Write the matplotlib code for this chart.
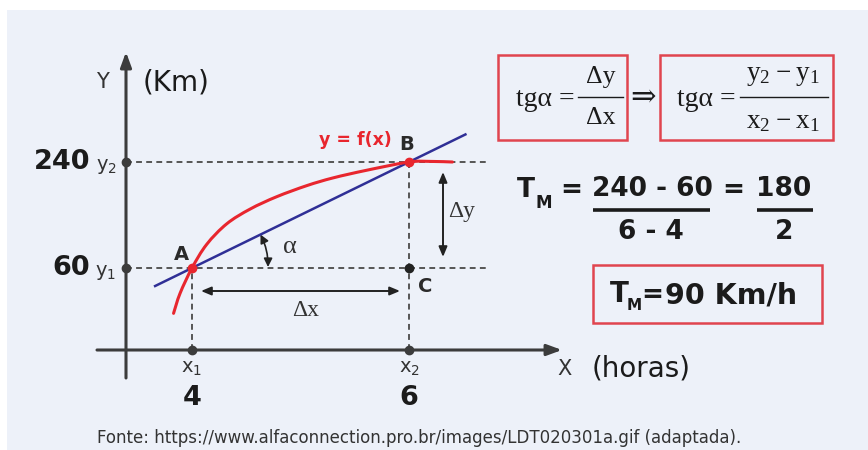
import matplotlib
matplotlib.use("Agg")
import matplotlib.pyplot as plt
from matplotlib.patches import Rectangle, FancyArrowPatch, PathPatch
from matplotlib.path import Path
from matplotlib.transforms import blended_transform_factory as btf

# ---------------- data ----------------
hours = [4, 6]                 # x1, x2  (horas)
km = [60, 240]                 # y1, y2  (Km)
x_tick_labels = ["4", "6"]
y_tick_labels = ["60", "240"]
x_sym = [r"$\mathregular{x_1}$", r"$\mathregular{x_2}$"]
y_sym = [r"$\mathregular{y_1}$", r"$\mathregular{y_2}$"]
# red curve y = f(x)
curve_h = [3.83, 3.89, 4.0, 4.135, 4.32, 4.535, 4.78, 5.06, 5.30, 5.61, 6.0, 6.2, 6.4]
curve_km = [-17, 17, 60, 100, 135, 160, 181, 200, 213, 226, 240, 241, 240]
secant_h = [3.66, 6.52]        # extent of the blue secant line
speed = (km[1] - km[0]) / (hours[1] - hours[0])   # 90 Km/h

W, H = 868, 450
fig = plt.figure(figsize=(8.68, 4.5), dpi=100)
fig.patch.set_facecolor("white")

# pixel overlay axes
ov = fig.add_axes([0, 0, 1, 1])
ov.set_xlim(0, W)
ov.set_ylim(H, 0)
ov.axis("off")
ov.add_patch(Rectangle((7, 10), W - 7, H - 10, facecolor="#edf1f9", edgecolor="none", zorder=0))

# data axes aligned to the picture (A at pixel (192,268), B at (409,162))
PA, PB = (192, 268), (409, 162)
sx = (PB[0] - PA[0]) / (hours[1] - hours[0])
sy = (PA[1] - PB[1]) / (km[1] - km[0])
ax = fig.add_axes([0, 0, 1, 1], zorder=2)
ax.set_xlim(hours[0] - PA[0] / sx, hours[0] + (W - PA[0]) / sx)
ax.set_ylim(km[0] - (H - PA[1]) / sy, km[0] + PA[1] / sy)
ax.axis("off")

def ky(py):
    return km[0] + (PA[1] - py) / sy

AXC = "#3c3c3c"
DARK = "#1b1b1b"
RED = "#e8262e"
BOXRED = "#e0454f"
BLUE = "#2f2f96"

# coordinate axes (pixel layout)
X_AXIS_PY, Y_AXIS_PX = 350, 126
ov.annotate("", xy=(Y_AXIS_PX, 52), xytext=(Y_AXIS_PX, 378),
            arrowprops=dict(arrowstyle="-|>,head_length=0.9,head_width=0.33", lw=2.2,
                            color=AXC, shrinkA=0, shrinkB=0), zorder=3)
ov.annotate("", xy=(562, X_AXIS_PY), xytext=(97, X_AXIS_PY),
            arrowprops=dict(arrowstyle="-|>,head_length=0.9,head_width=0.33", lw=2.2,
                            color=AXC, shrinkA=0, shrinkB=0), zorder=3)

tr_xpx = btf(ov.transData, ax.transData)
tr_ypx = btf(ax.transData, ov.transData)

dash = (0, (3, 2.2))
# dashed guides
for k in km:
    ax.plot([Y_AXIS_PX, 488], [k, k], transform=tr_xpx, ls=dash, color="#555555", lw=1.4, zorder=1)
for h, k in zip(hours, km):
    ax.plot([h, h], [ky(X_AXIS_PY), k], ls=dash, color="#555555", lw=1.4, zorder=1)

# secant line
sec_km = [km[0] + speed * (h - hours[0]) for h in secant_h]
ax.plot(secant_h, sec_km, color=BLUE, lw=1.8, zorder=3)

# smooth red curve through the read points (Catmull-Rom as cubic Bezier path)
pts = list(zip(curve_h, curve_km))
verts = [pts[0]]
codes = [Path.MOVETO]
n = len(pts)
for i in range(n - 1):
    p0 = pts[i - 1] if i > 0 else pts[i]
    p1, p2 = pts[i], pts[i + 1]
    p3 = pts[i + 2] if i + 2 < n else pts[i + 1]
    c1 = (p1[0] + (p2[0] - p0[0]) / 6, p1[1] + (p2[1] - p0[1]) / 6)
    c2 = (p2[0] - (p3[0] - p1[0]) / 6, p2[1] - (p3[1] - p1[1]) / 6)
    verts += [c1, c2, p2]
    codes += [Path.CURVE4] * 3
ax.add_patch(PathPatch(Path(verts, codes), facecolor="none", edgecolor=RED, lw=2.2,
                       capstyle="round", zorder=4))

# dots
ax.plot([Y_AXIS_PX] * 2, km, "o", transform=tr_xpx, color=AXC, ms=6, zorder=5)
ax.plot(hours, [X_AXIS_PY] * 2, "o", transform=tr_ypx, color=AXC, ms=6, zorder=5)
ax.plot(hours, km, "o", color=RED, ms=6, zorder=6)
ax.plot([hours[1]], [km[0]], "o", color="#222222", ms=6, zorder=5)

# point labels
ov.text(181, 255, "A", fontsize=14, fontweight="bold", color="#2a2a2a", ha="center", va="center", zorder=7)
ov.text(407, 144, "B", fontsize=14, fontweight="bold", color="#2a2a2a", ha="center", va="center", zorder=7)
ov.text(425, 286, "C", fontsize=14, fontweight="bold", color="#2a2a2a", ha="center", va="center", zorder=7)
ov.text(355, 140, "y = f(x)", fontsize=12.5, fontweight="bold", color=RED, ha="center", va="center", zorder=7)

# axis labels
ov.text(102, 82, "Y", fontsize=15, color="#333333", ha="center", va="center")
ov.text(176, 83, "(Km)", fontsize=20, color=DARK, ha="center", va="center")
ov.text(564, 369, "X", fontsize=15, color="#333333", ha="center", va="center")
ov.text(641, 368, "(horas)", fontsize=20, color=DARK, ha="center", va="center")

# tick-like labels
for k, lab, sym in zip(km, y_tick_labels, y_sym):
    ax.text(90, k, lab, transform=tr_xpx, fontsize=19.5, fontweight="bold", color=DARK,
            ha="right", va="center")
    ax.text(106, k - 5 / sy, sym, transform=tr_xpx, fontsize=14, color="#333333",
            ha="center", va="center")
for h, lab, sym in zip(hours, x_tick_labels, x_sym):
    ax.text(h, 368, sym, transform=tr_ypx, fontsize=14, color="#333333", ha="center", va="center")
    ax.text(h, 398, lab, transform=tr_ypx, fontsize=19.5, fontweight="bold", color=DARK,
            ha="center", va="center")

# delta arrows
ap = dict(arrowstyle="<|-|>,head_length=0.6,head_width=0.25", lw=1.4, color="#222222",
          shrinkA=0, shrinkB=0)
ov.annotate("", xy=(201, 291), xytext=(400, 291), arrowprops=ap, zorder=6)
ov.annotate("", xy=(443, 172), xytext=(443, 257), arrowprops=ap, zorder=6)
serif = ["Liberation Serif", "DejaVu Serif"]
ov.text(306, 311, "Δx", fontsize=17, family=serif, color="#333333", ha="center", va="center")
ov.text(462, 211, "Δy", fontsize=17, family=serif, color="#333333", ha="center", va="center")
ov.text(290, 247, "α", fontsize=19, family=serif, color="#333333", ha="center", va="center")
arc = FancyArrowPatch((260.5, 234.5), (268, 267), connectionstyle="arc3,rad=-0.12",
                      arrowstyle="<|-|>,head_length=5,head_width=2.5", lw=1.2, color="#222222",
                      mutation_scale=1, shrinkA=0, shrinkB=0, zorder=6)
ov.add_patch(arc)

# formula boxes (top right)
for (x0, y0, x1, y1) in [(498, 55, 627, 140), (660, 55, 833, 140), (593, 265, 822, 323)]:
    ov.add_patch(Rectangle((x0, y0), x1 - x0, y1 - y0, facecolor="none", edgecolor=BOXRED, lw=1.8, zorder=5))

fs = 18.5
ov.text(575, 99, "tgα =", fontsize=20, family=serif, color=DARK, ha="right", va="center")
ov.text(601, 77, "Δy", fontsize=fs, family=serif, color=DARK, ha="center", va="center")
ov.plot([578, 623], [97, 97], color=DARK, lw=1.0)
ov.text(601, 118, "Δx", fontsize=fs, family=serif, color=DARK, ha="center", va="center")
ov.text(643, 97, "⇒", fontsize=22, family=["DejaVu Serif"], color=DARK, ha="center", va="center")
ov.text(736, 99, "tgα =", fontsize=20, family=serif, color=DARK, ha="right", va="center")
ov.text(783, 75, r"$\mathregular{y_2 - y_1}$", fontsize=fs + 1, family=serif, color=DARK, ha="center", va="center")
ov.plot([740, 828], [97, 97], color=DARK, lw=1.0)
ov.text(783, 122, r"$\mathregular{x_2 - x_1}$", fontsize=fs + 1, family=serif, color=DARK, ha="center", va="center")

# T_M computation
tfs = 19
ov.text(526, 190, "T", fontsize=tfs, fontweight="bold", color=DARK, ha="center", va="center")
ov.text(544, 203, "M", fontsize=12, fontweight="bold", color=DARK, ha="center", va="center")
ov.text(571, 190, "=", fontsize=tfs, fontweight="bold", color=DARK, ha="center", va="center")
ov.text(652, 189, f"{km[1]} - {km[0]}", fontsize=tfs, fontweight="bold", color=DARK, ha="center", va="center")
ov.plot([593, 710], [209.5, 209.5], color=DARK, lw=2.6, solid_capstyle="butt")
ov.text(651, 232, f"{hours[1]} - {hours[0]}", fontsize=tfs, fontweight="bold", color=DARK, ha="center", va="center")
ov.text(733, 190, "=", fontsize=tfs, fontweight="bold", color=DARK, ha="center", va="center")
ov.text(784, 189, f"{km[1] - km[0]}", fontsize=tfs, fontweight="bold", color=DARK, ha="center", va="center")
ov.plot([757, 813], [209.5, 209.5], color=DARK, lw=2.6, solid_capstyle="butt")
ov.text(784, 232, f"{hours[1] - hours[0]}", fontsize=tfs, fontweight="bold", color=DARK, ha="center", va="center")

ov.text(619, 294, "T", fontsize=20, fontweight="bold", color=DARK, ha="center", va="center")
ov.text(634, 306, "M", fontsize=11, fontweight="bold", color=DARK, ha="center", va="center")
ov.text(652, 295, "=", fontsize=19, fontweight="bold", color=DARK, ha="center", va="center")
ov.text(665, 295, f"{speed:.0f} Km/h", fontsize=20.5, fontweight="bold", color=DARK, ha="left", va="center")

# source line
ov.text(97, 438, "Fonte: https://www.alfaconnection.pro.br/images/LDT020301a.gif (adaptada).",
        fontsize=12, color="#333333", ha="left", va="center")

fig.savefig("out.png", dpi=100, facecolor="white")
